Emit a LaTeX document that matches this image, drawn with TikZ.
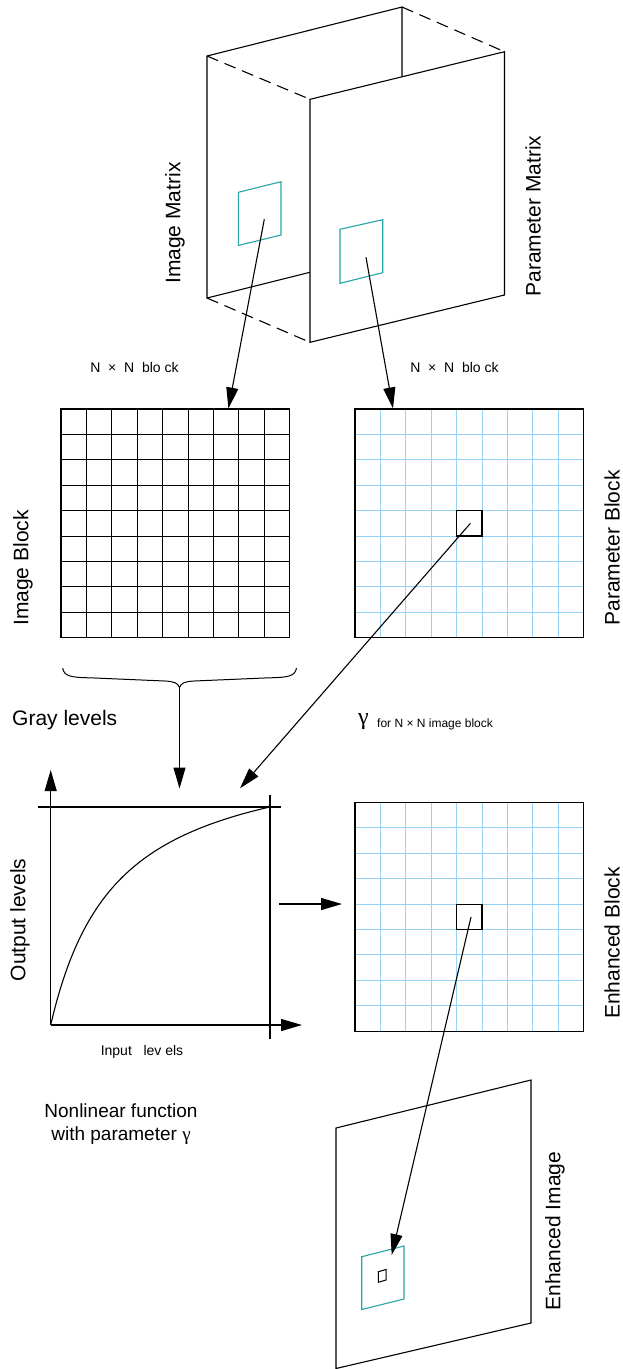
\documentclass[tikz,border=0pt]{standalone}
\usepackage{fontspec}
\setmainfont{Liberation Sans}
\newfontfamily\serifg{Liberation Serif}
\usetikzlibrary{arrows.meta}
\definecolor{tealc}{RGB}{38,166,166}
\definecolor{gridblue}{RGB}{150,210,245}
\begin{document}
\begin{tikzpicture}[x=1pt,y=-1pt,
  edge/.style={line width=1.1pt, black},
  arr/.style={line width=1.1pt, -{Triangle[length=21pt,width=12pt]}},
  hid/.style={line width=1.1pt, dash pattern=on 12pt off 7pt},
  tealsq/.style={draw=tealc, line width=1.1pt},
  gridln/.style={line width=1pt},
  lbl/.style={font=\fontsize{21}{25}\selectfont, inner sep=0pt},
  rlbl/.style={lbl, rotate=90},
  smalltxt/.style={font=\fontsize{14}{16}\selectfont, inner sep=0pt},
  blockbox/.style={draw, line width=1.1pt, minimum width=228.6pt, minimum height=228.6pt, inner sep=0pt},
]
\useasboundingbox (0,0) rectangle (623,1369);

% ---------- matrices (3D panels) ----------
\draw[edge] (310,272.3) -- (207,298) -- (207,56) -- (402,7) -- (402,77);
\draw[hid] (207,56) -- (310,99.3);
\draw[hid] (402,7) -- (504.5,51.7);
\draw[hid] (207,298) -- (310,342.3);
\draw[edge, fill=white] (310,99.3) -- (504.5,51.7) -- (504.5,295) -- (310,342.3) -- cycle;
\draw[tealsq] (238.3,192.3) -- (281,181.7) -- (281,235) -- (238.3,245.5) -- cycle;
\draw[tealsq] (340,229.3) -- (382.7,219.7) -- (382.7,272.7) -- (340,283.3) -- cycle;
\coordinate (imsq) at (264.3,219.3);
\coordinate (pmsq) at (366,257.3);

\node[rlbl] (lim) at (175,223) {Image Matrix};
\node[rlbl] (lpm) at (533,216) {Parameter Matrix};

% ---------- blocks ----------
\node[smalltxt] (nn1) at (134.5,367) {N \ \texttimes\ \ N \ blo ck};
\node[smalltxt] (nn2) at (454.5,367) {N \ \texttimes\ \ N \ blo ck};

\foreach \i in {1,...,8} {
  \draw[gridln] (61+\i*25.4,409) -- (61+\i*25.4,637.6);
  \draw[gridln] (61,409+\i*25.4) -- (289.6,409+\i*25.4);
  \draw[gridln, gridblue] (355+\i*25.4,409) -- (355+\i*25.4,637.6);
  \draw[gridln, gridblue] (355,409+\i*25.4) -- (583.6,409+\i*25.4);
  \draw[gridln, gridblue] (355+\i*25.4,802.5) -- (355+\i*25.4,1031.1);
  \draw[gridln, gridblue] (355,802.5+\i*25.4) -- (583.6,802.5+\i*25.4);
}
\node[blockbox] (imgblock) at (175.3,523.3) {};
\node[blockbox] (parblock) at (469.3,523.3) {};
\node[blockbox] (enhblock) at (469.3,916.8) {};
\draw[edge] (456.6,510.6) rectangle (482,536);
\draw[edge] (456.6,904.1) rectangle (482,929.5);
\coordinate (pbsq) at (470.4,523.3);
\coordinate (ebsq) at (471,917);

\node[rlbl] (lib) at (23,568) {Image Block};
\node[rlbl] (lpb) at (612,548) {Parameter Block};
\node[rlbl] (leb) at (612,943) {Enhanced Block};

\coordinate (imtop) at (228.4,408.5);
\coordinate (pbtop) at (393,408.5);
\draw[arr] (imsq) -- (imtop);
\draw[arr] (pmsq) -- (pbtop);

% ---------- brace ----------
\draw[line width=1pt] (62.7,668) .. controls (64,676) and (70,677.5) .. (90,677.8)
  -- (165,681) .. controls (174,681.5) and (178,683) .. (179.5,687.5)
  .. controls (181,683) and (185,681.5) .. (194,681)
  -- (269,677.8) .. controls (289,677.5) and (295,676) .. (296.5,668);
\coordinate (bracetip) at (179.5,687.5);
\coordinate (graphin) at (179.5,788.5);
\draw[arr] (bracetip) -- (graphin);

\node[lbl, anchor=west] (gray) at (12,720) {Gray levels};
\node[inner sep=0pt, anchor=west] (gam) at (358,722) {\serifg\fontsize{24}{26}\selectfont γ};
\node[inner sep=0pt, anchor=west, font=\fontsize{12}{14}\selectfont] (gamtxt) at (377,724) {for N \texttimes\ N image block};

\coordinate (paramin) at (240,788.3);
\draw[arr] (pbsq) -- (paramin);

% ---------- graph ----------
\coordinate (orig) at (50.7,1025);
\coordinate (ytip) at (50.7,770);
\coordinate (xtip) at (302,1025);
\draw[arr] (orig) -- (ytip);
\draw[arr] (orig) -- (xtip);
\draw[edge] (38,807) -- (281,807);
\draw[edge] (270,795) -- (270,1039);
\draw[edge] plot[domain=0:1,samples=80,smooth] ({50.7+219*\x},{1025-218*1.3*\x/(\x+0.3)});
\node[rlbl] (lout) at (20,920) {Output levels};
\node[smalltxt] (lin) at (142,1052) {Input \ \ lev els};

\coordinate (outa) at (279,904);
\coordinate (outb) at (342,904);
\draw[arr] (outa) -- (outb);

\node[align=center, inner sep=0pt, font=\fontsize{19}{23.5}\selectfont] (nonlin) at (121,1124)
  {Nonlinear function\\with parameter {\serifg γ}};

% ---------- enhanced image ----------
\draw[edge] (336,1128) -- (531,1080) -- (531,1323) -- (336,1368.5) -- cycle;
\draw[tealsq] (361.7,1256.7) -- (404,1246) -- (404,1299) -- (361.7,1309.5) -- cycle;
\draw[line width=1pt] (378.3,1271.7) -- (386,1269.5) -- (386,1280) -- (378.3,1282.3) -- cycle;
\coordinate (eitip) at (391.7,1255);
\draw[arr] (ebsq) -- (eitip);
\node[rlbl] (lei) at (555,1231) {Enhanced Image};
\end{tikzpicture}
\end{document}
